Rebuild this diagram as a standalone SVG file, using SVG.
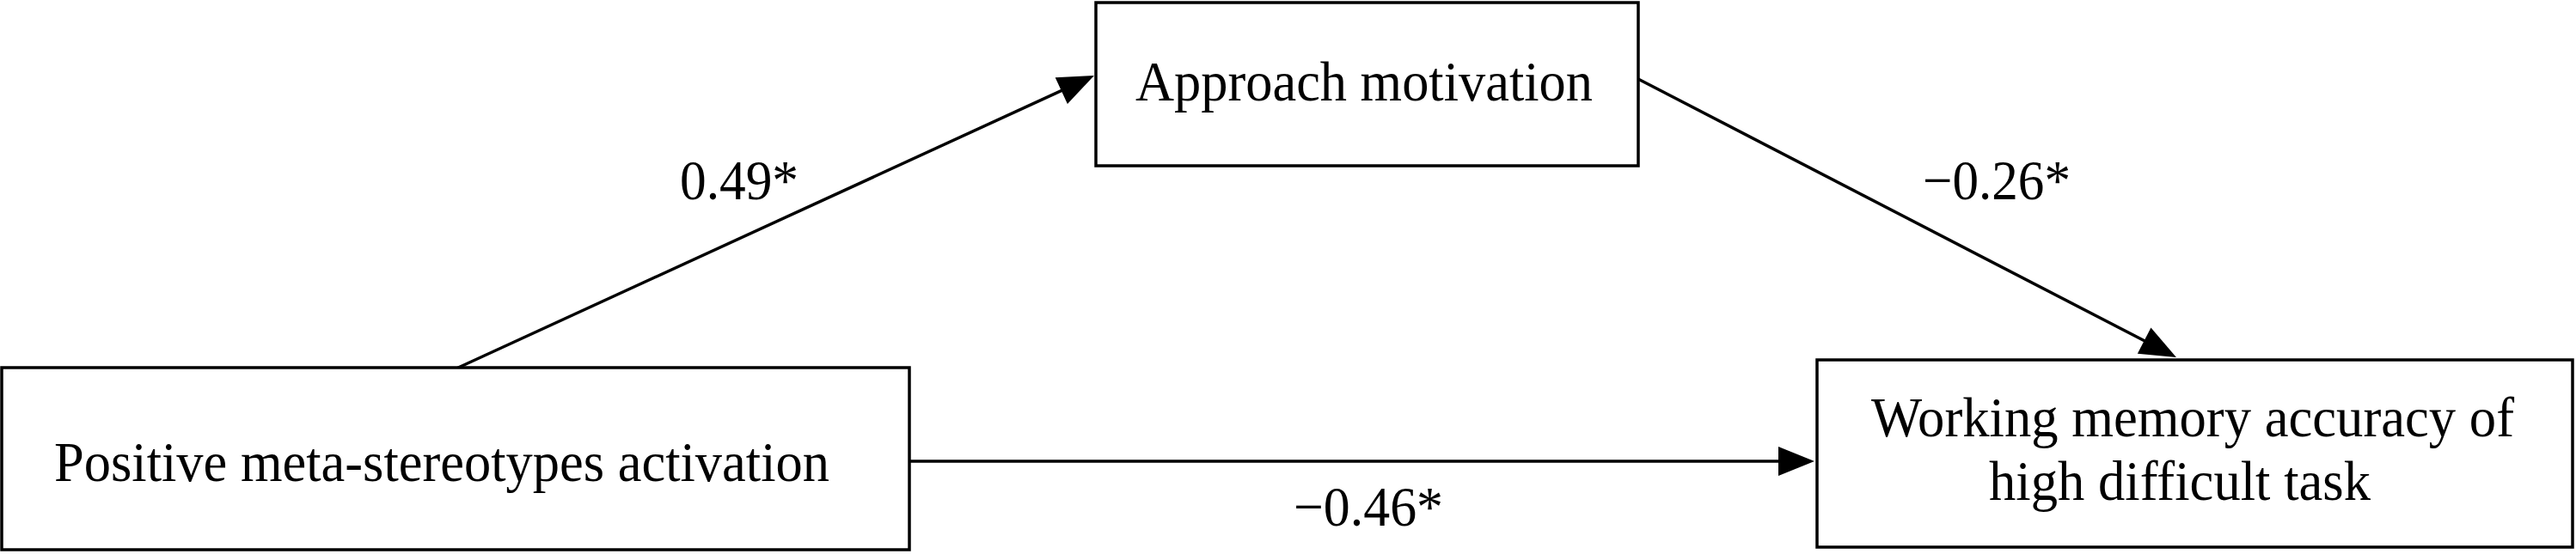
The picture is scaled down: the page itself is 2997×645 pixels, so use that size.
<svg xmlns="http://www.w3.org/2000/svg" width="2997" height="645" viewBox="0 0 2997 645">
<style>
.box{fill:#fff;stroke:#000;stroke-width:3.5}
.lbl{font-family:"Liberation Serif","Times New Roman",serif;font-size:66px;fill:#000}
.edge{fill:none;stroke:#000;stroke-width:3.5}
</style>
<defs>
<marker id="ah" markerUnits="userSpaceOnUse" markerWidth="46" markerHeight="36" refX="22" refY="17" orient="auto" overflow="visible">
<path d="M0,0 L42,17 L0,34 Z" fill="#000"/>
</marker>
</defs>
<rect width="2997" height="645" fill="#fff"/>
<g id="connectors">
<path class="edge" d="M531,429 L1254.8,96.4" marker-end="url(#ah)"/>
<path class="edge" d="M1906,92 L2514.2,406.8" marker-end="url(#ah)"/>
<path class="edge" d="M1058,537 L2091,537" marker-end="url(#ah)"/>
<text class="lbl" x="791" y="232" textLength="138" lengthAdjust="spacingAndGlyphs">0.49*</text>
<text class="lbl" x="2237" y="232" textLength="172" lengthAdjust="spacingAndGlyphs">−0.26*</text>
<text class="lbl" x="1505" y="612" textLength="174" lengthAdjust="spacingAndGlyphs">−0.46*</text>
</g>
<g id="node-approach">
<rect class="box" x="1275" y="3" width="631" height="190"/>
<text class="lbl" x="1321" y="117" textLength="532" lengthAdjust="spacingAndGlyphs">Approach motivation</text>
</g>
<g id="node-positive">
<rect class="box" x="2" y="428" width="1056" height="212"/>
<text class="lbl" x="63" y="560" textLength="902" lengthAdjust="spacingAndGlyphs">Positive meta-stereotypes activation</text>
</g>
<g id="node-wm">
<rect class="box" x="2114" y="419" width="879" height="218"/>
<text class="lbl" x="2177" y="508" textLength="748" lengthAdjust="spacingAndGlyphs">Working memory accuracy of</text>
<text class="lbl" x="2314" y="582" textLength="444" lengthAdjust="spacingAndGlyphs">high difficult task</text>
</g>
</svg>
